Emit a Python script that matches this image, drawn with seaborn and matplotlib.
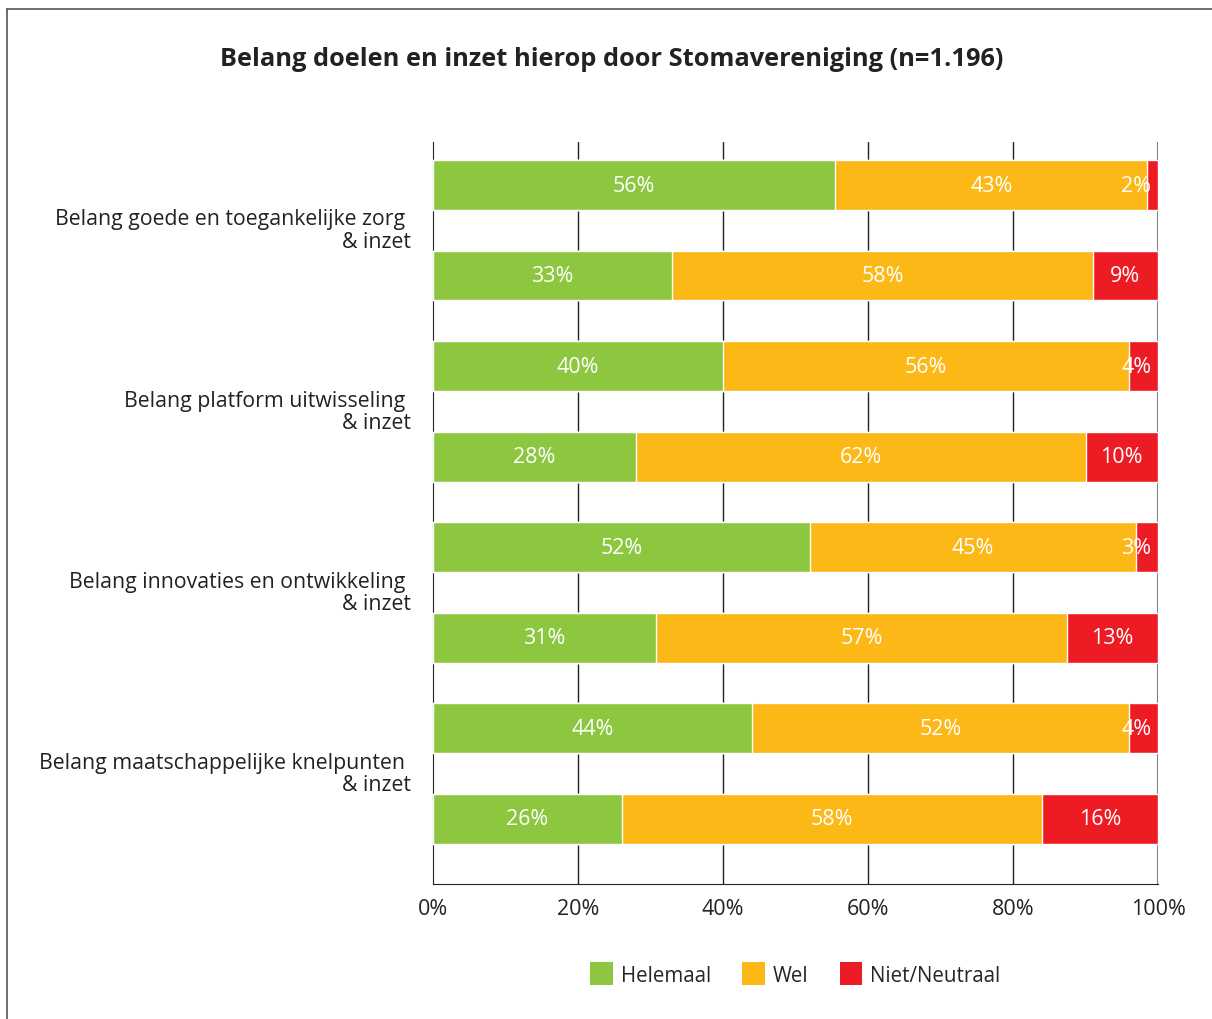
import matplotlib
matplotlib.use("Agg")
import matplotlib.pyplot as plt
from matplotlib.lines import Line2D
from matplotlib.patches import Patch
import numpy as np
import seaborn as sns

# data (two bars per topic: belang / inzet)
groups = [
    "Belang goede en toegankelijke zorg \n& inzet",
    "Belang platform uitwisseling \n& inzet",
    "Belang innovaties en ontwikkeling \n& inzet",
    "Belang maatschappelijke knelpunten \n& inzet",
]
bar_keys = ["b1", "i1", "b2", "i2", "b3", "i3", "b4", "i4"]
helemaal = [55.5, 33, 40, 28, 52, 30.8, 44, 26]
wel = [43, 58, 56, 62, 45, 56.6, 52, 58]
niet = [1.5, 9, 4, 10, 3, 12.6, 4, 16]
series_names = ["Helemaal", "Wel", "Niet/Neutraal"]
colors = ["#8DC63F", "#FBB817", "#ED1C24"]
xticks = [0, 20, 40, 60, 80, 100]

sns.set_style("white")
plt.rcParams["font.family"] = ["Open Sans", "DejaVu Sans"]

fig = plt.figure(figsize=(12.12, 10.2), dpi=100)
W, H = 1212, 1020
ax = fig.add_axes([433 / W, 1 - 885 / H, (1158 - 433) / W, (885 - 143) / H])

# stacked bars: draw cumulative totals back to front
cum_wel = np.array(helemaal) + np.array(wel)
cum_all = cum_wel + np.array(niet)
for vals, col in zip([cum_all, cum_wel, helemaal], colors[::-1]):
    sns.barplot(x=list(vals), y=bar_keys, orient="h", color=col, width=0.55,
                saturation=1, ax=ax, zorder=3)

# percentage labels centred in each segment (kept inside the bar end)
starts = [np.zeros(8), np.array(helemaal), cum_wel]
for series, st in zip([helemaal, wel, niet], starts):
    for i, (v, s) in enumerate(zip(series, st)):
        ax.text(min(s + v / 2, 97.0), i, f"{round(v)}%", ha="center", va="center",
                color="white", fontsize=15.5, zorder=4)

ax.set_xlim(0, 100)
ax.set_ylim(7.72, -0.475)
ax.set_xticks(xticks)
ax.set_xticklabels([f"{t}%" for t in xticks], fontsize=15.5, color="#222222")
ax.tick_params(axis="x", length=0, pad=10)
ax.set_yticks([])
ax.set_xlabel("")
ax.set_ylabel("")
for t in [20, 40, 60, 80]:
    ax.axvline(t, color="#222222", lw=1, zorder=1)
ax.axvline(100, color="#808080", lw=1.5, zorder=1)
for side in ["top", "right"]:
    ax.spines[side].set_visible(False)
ax.spines["left"].set_color("#222222")
ax.spines["bottom"].set_color("#222222")

# group labels between each pair of bars
for g, name in enumerate(groups):
    ax.text(-3.1, 2 * g + 0.5, name, ha="right", va="center", fontsize=15.3,
            color="#222222", linespacing=1.1)

fig.text(0.505, 1 - 59 / H, "Belang doelen en inzet hierop door Stomavereniging (n=1.196)",
         ha="center", va="center", fontsize=18.3, fontweight="bold", color="#222222")

handles = [Patch(facecolor=c, edgecolor="none") for c in colors]
fig.legend(handles, series_names, loc="center", ncol=3, frameon=False,
           bbox_to_anchor=(795.5 / W, 1 - 975 / H), fontsize=14.8,
           handlelength=1.1, handleheight=1.3, handletextpad=0.4, columnspacing=1.5)

# frame around the figure (top and left edges visible)
fig.add_artist(Line2D([7 / W, 1], [1 - 10 / H, 1 - 10 / H], color="#555555", lw=1.2))
fig.add_artist(Line2D([7 / W, 7 / W], [0, 1 - 10 / H], color="#555555", lw=1.2))

fig.savefig("out.png", dpi=100, facecolor="white")
